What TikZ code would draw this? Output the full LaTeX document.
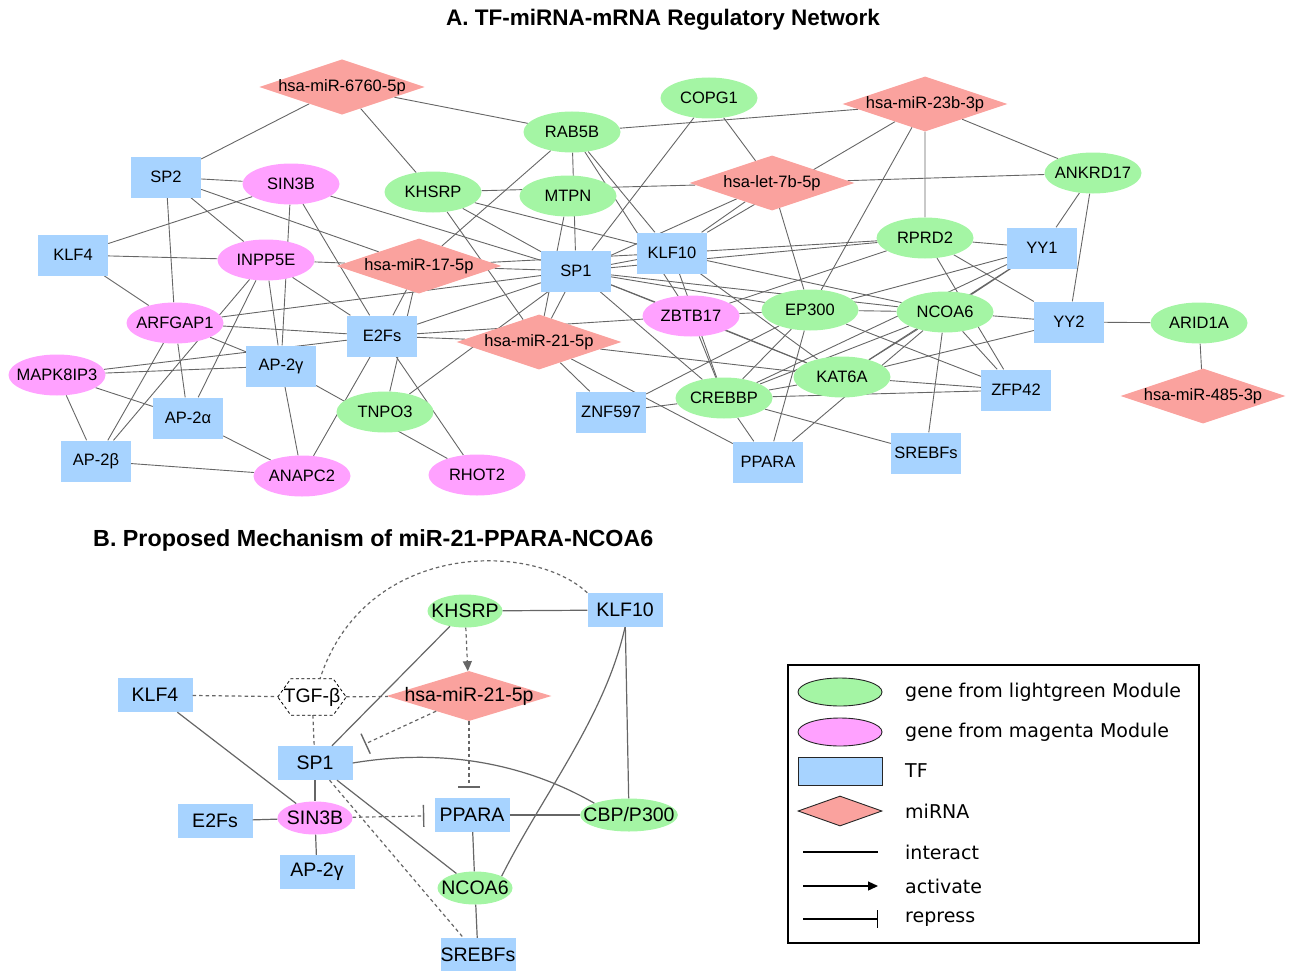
\documentclass[tikz,border=0pt]{standalone}
\usepackage{fontspec}
\setmainfont{Liberation Sans}
\newfontfamily\legendfont{DejaVu Sans}
\usetikzlibrary{shapes.geometric,arrows.meta,backgrounds}
\definecolor{genegreen}{HTML}{A4F5A4}
\definecolor{genemagenta}{HTML}{FFA1FF}
\definecolor{tfblue}{HTML}{A7D3FF}
\definecolor{mirsalmon}{HTML}{FAA29E}
\definecolor{linkgray}{HTML}{666666}
\begin{document}
\begin{tikzpicture}[x=1pt,y=-1pt,
  every node/.style={inner sep=0pt},
  heading/.style={font=\bfseries\fontsize{22.5}{26}\selectfont},
  fA/.style={font=\fontsize{16.5}{19}\selectfont},
  gA/.style={fA,ellipse,fill=genegreen,minimum width=97pt,minimum height=41pt,inner xsep=-8pt},
  mA/.style={gA,fill=genemagenta},
  tA/.style={fA,rectangle,fill=tfblue,minimum width=70pt,minimum height=41pt},
  dA/.style={fA,diamond,aspect=3,fill=mirsalmon,minimum width=165pt,minimum height=55pt,inner xsep=-4pt},
  linkA/.style={draw=linkgray,line width=0.9pt},
  fB/.style={font=\fontsize{19.5}{22}\selectfont},
  gB/.style={fB,ellipse,fill=genegreen,minimum width=75pt,minimum height=33pt,inner xsep=-11pt},
  mB/.style={gB,fill=genemagenta},
  tB/.style={fB,rectangle,fill=tfblue,minimum width=75pt,minimum height=34pt},
  dB/.style={fB,diamond,aspect=3.3,fill=mirsalmon,minimum width=165pt,minimum height=49pt,inner xsep=-12pt},
  hexB/.style={fB,rectangle,fill=white,minimum width=68pt,minimum height=36pt},
  linkB/.style={draw=linkgray,line width=1.2pt},
  dashB/.style={linkB,dash pattern=on 3.5pt off 3pt},
  act/.style={-{Triangle[length=10pt,width=9pt]}},
  rep/.style={-{Bar[width=22pt,line width=1.4pt]}},
  keytext/.style={font=\legendfont\fontsize{19}{22}\selectfont,anchor=west},
  keyshape/.style={draw=black!85,line width=0.9pt,minimum width=84pt,minimum height=28pt}
]
\useasboundingbox (0,0) rectangle (1292,971);
\node[heading] (titleA) at (663,20) {A. TF-miRNA-mRNA Regulatory Network};
\node[heading,font=\bfseries\fontsize{23.3}{27}\selectfont,anchor=west] (titleB) at (93,540) {B. Proposed Mechanism of miR-21-PPARA-NCOA6};

\node[dA] (m6760) at (342,87) {hsa-miR-6760-5p};
\node[gA] (COPG1) at (709,98) {COPG1};
\node[gA] (RAB5B) at (572,132) {RAB5B};
\node[dA] (m23b) at (925,104) {hsa-miR-23b-3p};
\node[tA] (SP2) at (166,177) {SP2};
\node[mA] (SIN3B) at (291,184) {SIN3B};
\node[gA] (KHSRP) at (433,192) {KHSRP};
\node[gA] (MTPN) at (568,196) {MTPN};
\node[dA] (let7b) at (772,183) {hsa-let-7b-5p};
\node[gA] (ANKRD17) at (1093,173) {ANKRD17};
\node[tA] (KLF4) at (73,255) {KLF4};
\node[mA] (INPP5E) at (266,260) {INPP5E};
\node[dA] (m17) at (419,266) {hsa-miR-17-5p};
\node[tA] (SP1) at (576,271) {SP1};
\node[tA] (KLF10) at (672,253) {KLF10};
\node[gA] (RPRD2) at (925,238) {RPRD2};
\node[tA] (YY1) at (1042,248) {YY1};
\node[mA] (ARFGAP1) at (175,323) {ARFGAP1};
\node[tA] (E2Fs) at (382,336) {E2Fs};
\node[dA] (m21) at (539,342) {hsa-miR-21-5p};
\node[mA] (ZBTB17) at (691,316) {ZBTB17};
\node[gA] (EP300) at (810,310) {EP300};
\node[gA] (NCOA6) at (945,312) {NCOA6};
\node[tA] (YY2) at (1069,322) {YY2};
\node[gA] (ARID1A) at (1199,323) {ARID1A};
\node[mA] (MAPK8IP3) at (57,375) {MAPK8IP3};
\node[tA] (AP2g) at (281,366) {AP-2γ};
\node[tA] (AP2a) at (188,418) {AP-2α};
\node[gA] (TNPO3) at (385,412) {TNPO3};
\node[tA] (ZNF597) at (611,412) {ZNF597};
\node[gA] (CREBBP) at (724,398) {CREBBP};
\node[gA] (KAT6A) at (842,377) {KAT6A};
\node[tA] (ZFP42) at (1016,390) {ZFP42};
\node[dA] (m485) at (1203,396) {hsa-miR-485-3p};
\node[tA] (AP2b) at (96,461) {AP-2β};
\node[mA] (ANAPC2) at (302,476) {ANAPC2};
\node[mA] (RHOT2) at (477,475) {RHOT2};
\node[tA] (PPARA) at (768,462) {PPARA};
\node[tA] (SREBFs) at (926,453) {SREBFs};

\begin{scope}[on background layer]
\draw[linkA] (m6760) -- (SP2) (m6760) -- (KHSRP) (m6760) -- (RAB5B);
\draw[linkA] (SP2) -- (SIN3B) (SP2) -- (INPP5E) (SP2) -- (ARFGAP1) (SP2) -- (m17);
\draw[linkA] (SIN3B) -- (KLF4) (SIN3B) -- (SP1) (SIN3B) -- (AP2g) (SIN3B) -- (E2Fs);
\draw[linkA] (KLF4) -- (INPP5E) (KLF4) -- (ARFGAP1);
\draw[linkA] (INPP5E) -- (m17) (INPP5E) -- (E2Fs) (INPP5E) -- (AP2g) (INPP5E) -- (AP2a) (INPP5E) -- (AP2b);
\draw[linkA] (ARFGAP1) -- (SP1) (ARFGAP1) -- (E2Fs) (ARFGAP1) -- (AP2g) (ARFGAP1) -- (AP2a) (ARFGAP1) -- (AP2b);
\draw[linkA] (MAPK8IP3) -- (E2Fs) (MAPK8IP3) -- (AP2g) (MAPK8IP3) -- (AP2a) (MAPK8IP3) -- (AP2b);
\draw[linkA] (AP2g) -- (RHOT2) (AP2g) -- (ANAPC2) (AP2a) -- (ANAPC2) (AP2b) -- (ANAPC2);
\draw[linkA] (E2Fs) -- (ANAPC2) (E2Fs) -- (RHOT2) (E2Fs) -- (SP1) (E2Fs) -- (ZBTB17) (E2Fs) -- (m21) (E2Fs) -- (m17);
\draw[linkA] (m17) -- (TNPO3) (m17) -- (SP1) (m17) -- (KLF10) (TNPO3) -- (SP1);
\draw[linkA] (RAB5B) -- (m17) (RAB5B) -- (m23b) (RAB5B) -- (SP1) (RAB5B) -- (KLF10) (RAB5B) -- (ZBTB17);
\draw[linkA] (COPG1) -- (SP1) (COPG1) -- (let7b);
\draw[linkA] (KHSRP) -- (let7b) (KHSRP) -- (SP1) (KHSRP) -- (KLF10) (KHSRP) -- (m21);
\draw[linkA] (m21) -- (ZNF597) (m21) -- (KAT6A) (m21) -- (PPARA) (MTPN) -- (m21);
\draw[linkA] (SP1) -- (KLF10) (SP1) -- (RPRD2) (SP1) -- (let7b) (SP1) -- (m21) (SP1) -- (ZBTB17);
\draw[linkA] (SP1) -- (CREBBP) (SP1) -- (EP300) (SP1) -- (NCOA6) (SP1) -- (KAT6A);
\draw[linkA] (KLF10) -- (RPRD2) (KLF10) -- (let7b) (KLF10) -- (m23b) (KLF10) -- (NCOA6) (KLF10) -- (KAT6A) (KLF10) -- (CREBBP);
\draw[linkA] (RPRD2) -- (YY1) (RPRD2) -- (YY2) (RPRD2) -- (ZFP42) (RPRD2) -- (ZBTB17);
\draw[linkA] (ZBTB17) -- (CREBBP) (ZBTB17) -- (EP300) (ZBTB17) -- (KAT6A);
\draw[linkA] (ZNF597) -- (CREBBP) (ZNF597) -- (EP300);
\draw[linkA] (CREBBP) -- (PPARA) (CREBBP) -- (NCOA6) (CREBBP) -- (YY1) (CREBBP) -- (KAT6A);
\draw[linkA] (CREBBP) -- (ZFP42) (CREBBP) -- (SREBFs) (CREBBP) -- (EP300);
\draw[linkA] (m23b) -- (ANKRD17) (m23b) -- (RPRD2) (m23b) -- (EP300);
\draw[linkA] (let7b) -- (ANKRD17) (let7b) -- (EP300);
\draw[linkA] (ANKRD17) -- (YY1) (ANKRD17) -- (YY2);
\draw[linkA] (YY1) -- (EP300) (YY1) -- (NCOA6) (YY1) -- (KAT6A);
\draw[linkA] (NCOA6) -- (YY2) (NCOA6) -- (EP300) (NCOA6) -- (ZFP42) (NCOA6) -- (SREBFs) (NCOA6) -- (KAT6A) (NCOA6) -- (PPARA);
\draw[linkA] (EP300) -- (PPARA) (EP300) -- (ZFP42);
\draw[linkA] (KAT6A) -- (YY2) (KAT6A) -- (ZFP42);
\draw[linkA] (YY2) -- (ARID1A) (ARID1A) -- (m485);
\end{scope}

\node[gB] (bKHSRP) at (465,611) {KHSRP};
\node[tB] (bKLF10) at (625,610) {KLF10};
\node[tB] (bKLF4) at (155,695) {KLF4};
\node[hexB] (bTGF) at (312,697) {TGF-β};
\node[dB] (bm21) at (469,696) {hsa-miR-21-5p};
\node[tB] (bSP1) at (315,763) {SP1};
\node[tB] (bE2Fs) at (215,821) {E2Fs};
\node[mB] (bSIN3B) at (315,818) {SIN3B};
\node[tB] (bPPARA) at (472,815) {PPARA};
\node[gB,minimum width=97pt] (bCBP) at (629,815) {CBP/P300};
\node[tB] (bAP2g) at (317,872) {AP-2γ};
\node[gB] (bNCOA6) at (475,888) {NCOA6};
\node[tB] (bSREBFs) at (478,955) {SREBFs};
\coordinate (sp1bar) at (365,744);

\draw[black,line width=0.8pt,dash pattern=on 3pt off 2.5pt] (bTGF.west) -- ([xshift=13pt]bTGF.north west) -- ([xshift=-13pt]bTGF.north east) -- (bTGF.east) -- ([xshift=-13pt]bTGF.south east) -- ([xshift=13pt]bTGF.south west) -- cycle;
\draw[linkB] (bKHSRP) -- (bKLF10);
\draw[dashB,act] (bKHSRP) -- (bm21);
\draw[linkB] (bKHSRP) -- (bSP1);
\draw[linkB] (bKLF10.south) .. controls +(-20,90) and +(40,-80) .. (bNCOA6.north east);
\draw[linkB] (bKLF10) -- (bCBP);
\draw[dashB] (bKLF10.north west) .. controls +(-55,-52) and +(45,-138) .. ([xshift=8pt]bTGF.north);
\draw[dashB] (bKLF4) -- (bTGF);
\draw[dashB] (bTGF) -- (bm21);
\draw[dashB] (bTGF) -- (bSP1);
\draw[dashB,rep] (bm21) -- (sp1bar);
\draw[dashB,rep,shorten >=10pt] (bm21.south) -- (bm21.south |- bPPARA.north);
\draw[linkB] (bSP1.east) .. controls +(90,-15) and +(-70,-40) .. (bCBP.north west);
\draw[linkB] (bSP1) -- (bSIN3B);
\draw[linkB] (bSP1) -- (bNCOA6);
\draw[dashB] (bSP1) -- (bSREBFs);
\draw[linkB] (bKLF4) -- (bSIN3B);
\draw[linkB] (bE2Fs) -- (bSIN3B);
\draw[linkB] (bSIN3B) -- (bAP2g);
\draw[dashB,rep,shorten >=10pt] (bSIN3B) -- (bPPARA);
\draw[linkB] (bPPARA) -- (bCBP);
\draw[linkB] (bPPARA) -- (bNCOA6);
\draw[linkB] (bNCOA6) -- (bSREBFs);

\node[draw=black,line width=1.2pt,minimum width=411pt,minimum height=278pt] (legend) at (993.5,804) {};
\node[keyshape,ellipse,fill=genegreen] (keyG) at (840,692) {};
\node[keytext] (keyGtext) at (905,692) {gene from lightgreen Module};
\node[keyshape,ellipse,fill=genemagenta] (keyM) at (840,732) {};
\node[keytext] (keyMtext) at (905,732) {gene from magenta Module};
\node[keyshape,rectangle,fill=tfblue] (keyT) at (840,771) {};
\node[keytext] (keyTtext) at (905,771) {TF};
\node[keyshape,diamond,aspect=2.8,fill=mirsalmon,minimum height=30pt] (keyD) at (840,811) {};
\node[keytext] (keyDtext) at (905,811) {miRNA};
\coordinate (keyIa) at (803,852);
\coordinate (keyIb) at (878,852);
\coordinate (keyAa) at (803,886);
\coordinate (keyAb) at (878,886);
\coordinate (keyRa) at (803,919);
\coordinate (keyRb) at (878,919);
\draw[black,line width=1.3pt] (keyIa) -- (keyIb);
\draw[black,line width=1.3pt,-{Triangle[length=10pt,width=9pt]}] (keyAa) -- (keyAb);
\draw[black,line width=1.3pt,-{Bar[width=18pt]}] (keyRa) -- (keyRb);
\node[keytext] (keyItext) at (905,852) {interact};
\node[keytext] (keyAtext) at (905,886) {activate};
\node[keytext] (keyRtext) at (905,919) {repress};
\end{tikzpicture}
\end{document}
